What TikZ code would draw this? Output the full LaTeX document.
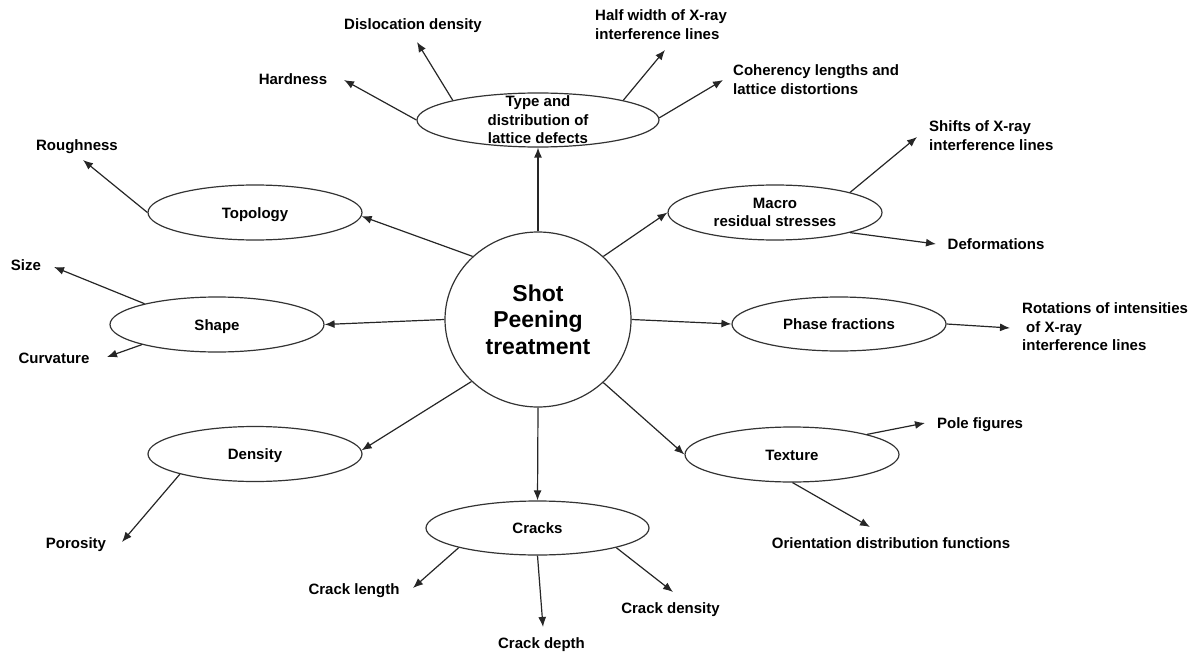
\documentclass[tikz,border=0pt]{standalone}
\usepackage{fontspec}
\setmainfont{Liberation Sans}
\usetikzlibrary{shapes.geometric,arrows.meta}
\newcommand{\leaffont}{\fontsize{15}{18.5}\selectfont\bfseries}
\newcommand{\corefont}{\fontsize{23}{26.5}\selectfont\bfseries}
\begin{document}
\begin{tikzpicture}[x=1pt,y=-1pt,
  bubble/.style={ellipse,draw=black!80,line width=1.2pt,inner sep=0pt,
    minimum width=214pt,minimum height=55pt,font=\leaffont},
  oneline/.style={text height=11pt,text depth=0pt},
  leaf/.style={inner sep=0pt,font=\leaffont,anchor=base},
  leafl/.style={inner sep=0pt,font=\leaffont,align=left,anchor=north west},
  link/.style={draw=black!85,line width=1.2pt,-{Latex[length=10pt,width=8pt]}}]
\useasboundingbox (0,0) rectangle (1198,655);

% central topic
\node[bubble,minimum width=186pt,minimum height=175pt,font=\corefont,align=center]
  (core) at (538,319.5) {Shot\\Peening\\treatment};

% first ring of properties
\node[bubble,minimum width=242pt,minimum height=54pt] (type) at (538,120) {};
\node[inner sep=0pt,font=\leaffont,align=center] (typetext) at (type.center)
  {Type and\\distribution of\\lattice defects};
\node[bubble,oneline] (topo) at (255,212.5) {Topology};
\node[bubble,oneline] (shape) at (217,324.5) {Shape};
\node[bubble,oneline] (dens) at (255,454) {Density};
\node[bubble,oneline,minimum width=223pt,minimum height=54pt] (cracks) at (537.5,528) {Cracks};
\node[bubble,oneline] (texture) at (792,454.5) {Texture};
\node[bubble,oneline,minimum height=54pt] (phase) at (839,324) {Phase fractions};
\node[bubble,align=center] (macro) at (775,212.5) {Macro\\residual stresses};

% measurable quantities
\node[leaf] (disl) at (413,29.5) {Dislocation density};
\node[leaf] (hard) at (293,84.5) {Hardness};
\node[leafl] (half) at (595,9.5) {Half width of X-ray\\interference lines};
\node[leafl] (coh) at (733,64.5) {Coherency lengths and\\lattice distortions};
\node[leaf] (rough) at (77,150.5) {Roughness};
\node[leaf] (size) at (26,270.5) {Size};
\node[leaf] (curv) at (54,363.5) {Curvature};
\node[leaf] (poro) at (76,548.5) {Porosity};
\node[leaf] (clen) at (354,594.5) {Crack length};
\node[leaf] (cdep) at (541.5,648.5) {Crack depth};
\node[leaf] (cden) at (670.5,613.5) {Crack density};
\node[leaf] (odf) at (891,548.5) {Orientation distribution functions};
\node[leaf] (pole) at (980,428.5) {Pole figures};
\node[leafl] (rot) at (1022,302.5) {Rotations of intensities\\\hspace*{4pt}of X-ray\\interference lines};
\node[leaf] (deform) at (996,249.5) {Deformations};
\node[leafl] (shift) at (929,120.5) {Shifts of X-ray\\interference lines};

% arrow tips next to the quantities
\coordinate (tHard) at (344,80);
\coordinate (tDisl) at (417,42);
\coordinate (tHalf) at (665,50);
\coordinate (tCoh) at (723,80);
\coordinate (tRough) at (83,160);
\coordinate (tSize) at (54,267);
\coordinate (tCurv) at (107,357);
\coordinate (tPoro) at (122,542);
\coordinate (tLen) at (413,588);
\coordinate (tDep) at (543,627);
\coordinate (tDen) at (673,592);
\coordinate (tOdf) at (870,527);
\coordinate (tPole) at (925,423);
\coordinate (tRot) at (1010,328);
\coordinate (tDef) at (936,244);
\coordinate (tShift) at (917,137);

% centre to properties
\draw[link] (core.north) -- (type.south);
\draw[link] (core.136.6) -- (topo.358.5);
\draw[link] (core.west) -- (shape.east);
\draw[link] (core.223.9) -- (dens.2);
\draw[link] (core.south) -- (cracks.north);
\draw[link] (core.316) -- (texture.west);
\draw[link] (core.east) -- (phase.west);
\draw[link] (core.44.3) -- (macro.west);

% properties to quantities
\draw[link] (type.west) -- (tHard);
\draw[link] (type.167) -- (tDisl);
\draw[link] (type.13.2) -- (tHalf);
\draw[link] (type.1) -- (tCoh);
\draw[link] (topo.west) -- (tRough);
\draw[link] (shape.164) -- (tSize);
\draw[link] (shape.195.5) -- (tCurv);
\draw[link] (dens.195.4) -- (tPoro);
\draw[link] (cracks.194) -- (tLen);
\draw[link] (cracks.south) -- (tDep);
\draw[link] (cracks.346) -- (tDen);
\draw[link] (texture.271) -- (tOdf);
\draw[link] (texture.15.4) -- (tPole);
\draw[link] (phase.east) -- (tRot);
\draw[link] (macro.345.5) -- (tDef);
\draw[link] (macro.15.3) -- (tShift);
\end{tikzpicture}
\end{document}
